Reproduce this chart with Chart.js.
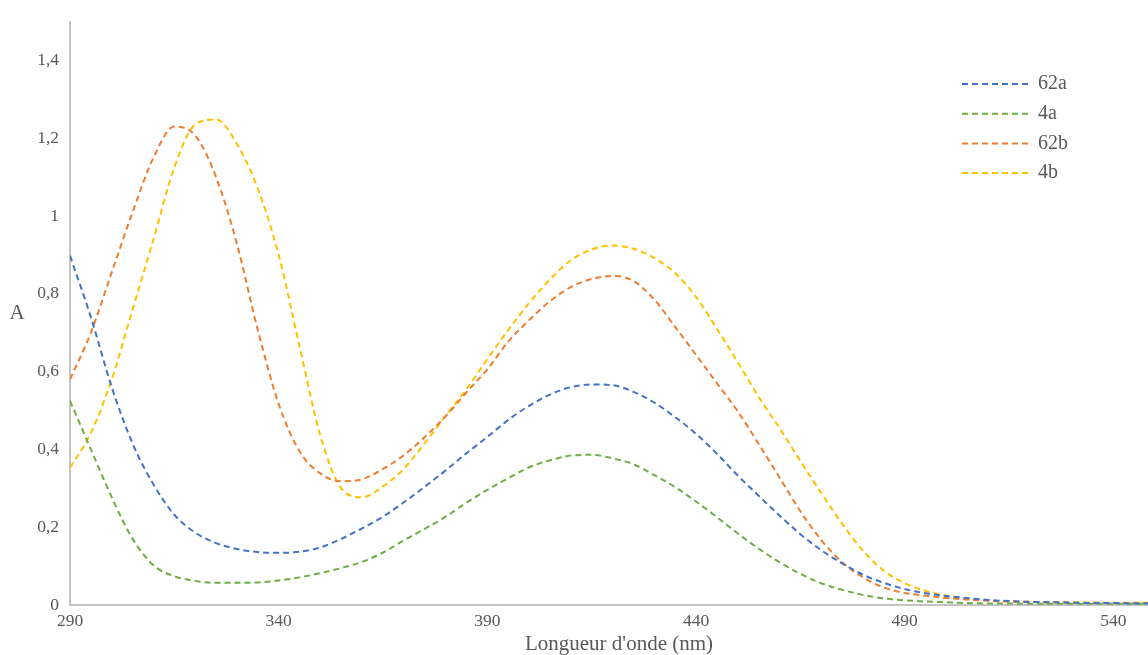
<!DOCTYPE html>
<html>
<head>
<meta charset="utf-8">
<script src="https://cdn.jsdelivr.net/npm/chart.js@4"></script>
<style>
  html, body { margin: 0; padding: 0; background: white; }
</style>
</head>
<body>
<canvas id="specCanvas" width="1148" height="655"></canvas>
<script>
// wavelengths (nm), one reading every 5 nm
const wavelengths = [290, 295, 300, 305, 310, 315, 320, 325, 330, 335, 340, 345, 350, 355, 360, 365, 370, 375, 380, 385,
  390, 395, 400, 405, 410, 415, 420, 425, 430, 435, 440, 445, 450, 455, 460, 465, 470, 475, 480, 485,
  490, 495, 500, 505, 510, 515, 520, 525, 530, 535, 540, 545, 550];

// absorbance of each compound
const abs62a = [0.898, 0.74, 0.56, 0.415, 0.31, 0.232, 0.186, 0.159, 0.144, 0.136, 0.134, 0.137, 0.148, 0.17, 0.197, 0.227, 0.264, 0.304, 0.346, 0.39,
  0.432, 0.476, 0.512, 0.541, 0.56, 0.567, 0.565, 0.548, 0.52, 0.483, 0.44, 0.389, 0.333, 0.281, 0.23, 0.182, 0.141, 0.107, 0.078, 0.057,
  0.041, 0.03, 0.023, 0.018, 0.013, 0.01, 0.008, 0.007, 0.006, 0.005, 0.005, 0.004, 0.004];
const abs4a = [0.525, 0.4, 0.277, 0.17, 0.102, 0.074, 0.062, 0.057, 0.057, 0.058, 0.063, 0.071, 0.082, 0.095, 0.111, 0.135, 0.166, 0.196, 0.227, 0.263,
  0.296, 0.326, 0.354, 0.372, 0.384, 0.386, 0.377, 0.362, 0.334, 0.303, 0.266, 0.226, 0.184, 0.145, 0.11, 0.08, 0.056, 0.039, 0.026, 0.017,
  0.012, 0.009, 0.007, 0.005, 0.004, 0.004, 0.003, 0.003, 0.003, 0.003, 0.003, 0.003, 0.003];
const abs62b = [0.58, 0.70, 0.855, 1.01, 1.15, 1.23, 1.207, 1.10, 0.928, 0.707, 0.517, 0.395, 0.338, 0.318, 0.323, 0.35, 0.385, 0.432, 0.485, 0.547,
  0.606, 0.677, 0.732, 0.781, 0.817, 0.838, 0.846, 0.833, 0.785, 0.715, 0.643, 0.57, 0.498, 0.414, 0.328, 0.241, 0.167, 0.11, 0.071, 0.045,
  0.031, 0.024, 0.018, 0.014, 0.011, 0.009, 0.008, 0.007, 0.006, 0.006, 0.005, 0.005, 0.005];
const abs4b = [0.353, 0.442, 0.58, 0.76, 0.94, 1.125, 1.235, 1.248, 1.185, 1.07, 0.90, 0.665, 0.435, 0.30, 0.277, 0.305, 0.35, 0.416, 0.486, 0.555,
  0.632, 0.707, 0.776, 0.837, 0.886, 0.914, 0.924, 0.916, 0.892, 0.853, 0.792, 0.71, 0.624, 0.535, 0.455, 0.37, 0.288, 0.209, 0.14, 0.088,
  0.056, 0.036, 0.024, 0.016, 0.012, 0.009, 0.008, 0.007, 0.007, 0.006, 0.006, 0.006, 0.006];

const seriesNames = ['62a', '4a', '62b', '4b'];
const seriesColors = ['#4472C4', '#70AD47', '#ED7D31', '#FFC000'];

// tick labels
const xTicks = [290, 340, 390, 440, 490, 540];
const yTicks = [0, 0.2, 0.4, 0.6, 0.8, 1, 1.2, 1.4];
const xTitle = "Longueur d'onde (nm)";
const yTitle = 'A';

const FONT = "'Liberation Serif', 'Times New Roman', serif";
const TEXT_COLOR = '#595959';

// pairing wavelengths with values
const toPoints = (values) => wavelengths.map((w, i) => ({ x: w, y: values[i] }));

const allSeries = [abs62a, abs4a, abs62b, abs4b];
const datasets = allSeries.map((values, i) => ({
  label: seriesNames[i],
  data: toPoints(values),
  borderColor: seriesColors[i],
  backgroundColor: seriesColors[i],
  borderWidth: 2,
  borderDash: [6, 4],
  pointRadius: 0,
  fill: false,
  cubicInterpolationMode: 'monotone'
}));

// axis titles and legend drawn by hand so they sit where Excel put them
const labelsPlugin = {
  id: 'labels',
  afterDraw(chart) {
    const ctx = chart.ctx;
    ctx.save();
    ctx.fillStyle = TEXT_COLOR;
    ctx.textBaseline = 'middle';

    ctx.font = '21px ' + FONT;
    ctx.textAlign = 'center';
    ctx.fillText(xTitle, 619, 644);
    ctx.fillText(yTitle, 17, 313);

    // legend, one row per series
    ctx.font = '20px ' + FONT;
    ctx.textAlign = 'left';
    chart.data.datasets.forEach((ds, i) => {
      const y = 84 + i * 29.7;
      ctx.strokeStyle = ds.borderColor;
      ctx.lineWidth = 2;
      ctx.setLineDash([6, 4]);
      ctx.beginPath();
      ctx.moveTo(962, y);
      ctx.lineTo(1028, y);
      ctx.stroke();
      ctx.setLineDash([]);
      ctx.fillText(ds.label, 1038, y);
    });
    ctx.restore();
  }
};

const config = {
  type: 'line',
  data: { datasets },
  options: {
    responsive: false,
    animation: false,
    devicePixelRatio: 1,
    layout: { padding: { top: 18, right: 0, bottom: 0, left: 0 } },
    plugins: {
      legend: { display: false },
      tooltip: { enabled: false }
    },
    scales: {
      x: {
        type: 'linear',
        min: 290,
        max: 548.3,
        afterBuildTicks: (scale) => { scale.ticks = xTicks.map(v => ({ value: v })); },
        afterFit: (scale) => { scale.height = 50; },
        grid: { display: false, drawTicks: false },
        border: { display: true, color: '#c4c4c4', width: 2 },
        ticks: {
          color: TEXT_COLOR,
          font: { family: FONT, size: 17.5 },
          padding: 6,
          maxRotation: 0
        }
      },
      y: {
        min: 0,
        max: 1.5,
        afterBuildTicks: (scale) => { scale.ticks = yTicks.map(v => ({ value: v })); },
        afterFit: (scale) => { scale.width = 70; },
        grid: { display: false, drawTicks: false },
        border: { display: true, color: '#c4c4c4', width: 2 },
        ticks: {
          color: TEXT_COLOR,
          font: { family: FONT, size: 17.5 },
          padding: 11,
          callback: (v) => String(v).replace('.', ',')
        }
      }
    }
  },
  plugins: [labelsPlugin]
};

const specChart = new Chart(document.getElementById('specCanvas'), config);
</script>
</body>
</html>
